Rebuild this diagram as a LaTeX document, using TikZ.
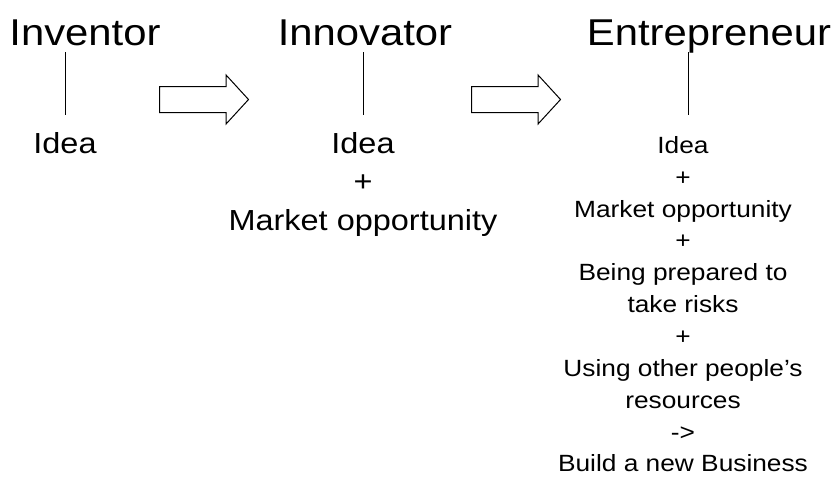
\documentclass[tikz,border=0pt]{standalone}
\usepackage{fontspec}
\setmainfont[FakeStretch=1.12]{Liberation Sans}
\usetikzlibrary{shapes.arrows}

\tikzset{
  title/.style = {font=\fontsize{28}{34}\selectfont, inner sep=0, text depth=5.25pt, anchor=base},
  body/.style = {font=\fontsize{21.75}{28.9}\selectfont, align=center, inner sep=0, anchor=north},
  small/.style = {font=\fontsize{17.6}{23.9}\selectfont, align=center, inner sep=0, anchor=north},
  stem/.style = {draw, line width=0.75pt, shorten >=12.75pt},
  push/.style = {single arrow, draw, line width=0.75pt, inner xsep=0, inner ysep=9.375pt,
    single arrow head extend=8.625pt, single arrow tip angle=95, minimum height=66.75pt, anchor=west}
}

\begin{document}
\begin{tikzpicture}[x=0.75pt, y=-0.75pt]

  \useasboundingbox (0,0) rectangle (838,476);

  \node[title] (inventor) at (85,45) {Inventor};
  \node[title] (innovator) at (365,45) {Innovator};
  \node[title] (entrepreneur) at (709,45) {Entrepreneur};

  \node[body] (idea1) at (65,132) {Idea};
  \node[body] (idea2) at (363,132) {Idea\\+\\Market opportunity};
  \node[small] (idea3) at (683,136) {Idea\\+\\Market opportunity\\+\\Being prepared to\\take risks\\+\\Using other people’s\\resources\\->\\Build a new Business};

  \node[push] (arrowA) at (159,99.5) {};
  \node[push] (arrowB) at (471,99.5) {};

  \path [stem] (inventor.south -| idea1.north) -- (idea1.north);
  \path [stem] (innovator.south -| idea2.north) -- (idea2.north);
  \path [stem, shorten >=15.75pt] ([xshift=3.75pt]entrepreneur.south -| idea3.north) -- ([xshift=3.75pt]idea3.north);

\end{tikzpicture}
\end{document}
